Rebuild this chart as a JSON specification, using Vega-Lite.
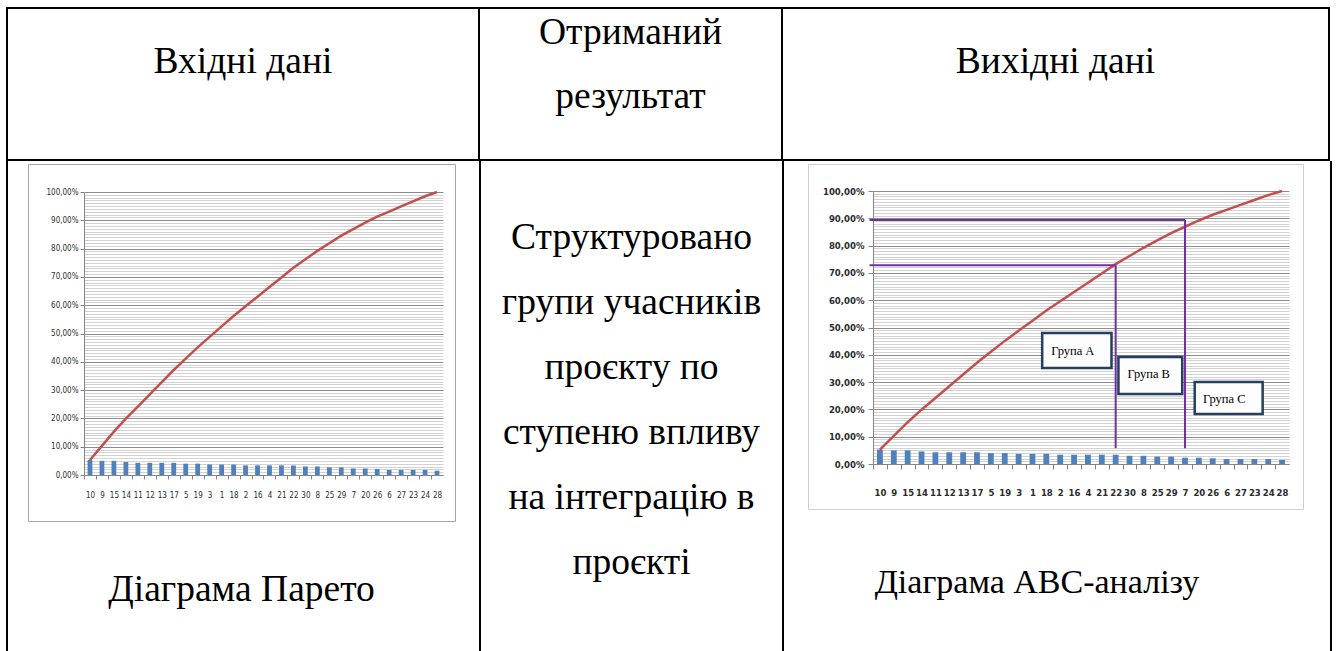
{
  "$schema": "https://vega.github.io/schema/vega-lite/v6.json",
  "background": "white",
  "padding": {"left": 6, "top": 7, "right": 0, "bottom": 0},
  "config": {
    "font": "Liberation Serif",
    "view": {"stroke": null},
    "text": {"font": "Liberation Serif", "fontSize": 37.5, "color": "black"}
  },
  "data": {"values": [{"k": 0}]},
  "datasets": {
    "empty": [],
    "pareto": [
      {"id": "10", "share": 0.053, "cum": 0.053},
      {"id": "9", "share": 0.050, "cum": 0.103},
      {"id": "15", "share": 0.050, "cum": 0.153},
      {"id": "14", "share": 0.046, "cum": 0.199},
      {"id": "11", "share": 0.043, "cum": 0.242},
      {"id": "12", "share": 0.043, "cum": 0.285},
      {"id": "13", "share": 0.043, "cum": 0.328},
      {"id": "17", "share": 0.043, "cum": 0.371},
      {"id": "5", "share": 0.040, "cum": 0.411},
      {"id": "19", "share": 0.040, "cum": 0.451},
      {"id": "3", "share": 0.037, "cum": 0.488},
      {"id": "1", "share": 0.037, "cum": 0.525},
      {"id": "18", "share": 0.037, "cum": 0.562},
      {"id": "2", "share": 0.034, "cum": 0.596},
      {"id": "16", "share": 0.034, "cum": 0.630},
      {"id": "4", "share": 0.034, "cum": 0.664},
      {"id": "21", "share": 0.034, "cum": 0.698},
      {"id": "22", "share": 0.034, "cum": 0.732},
      {"id": "30", "share": 0.030, "cum": 0.762},
      {"id": "8", "share": 0.030, "cum": 0.792},
      {"id": "25", "share": 0.027, "cum": 0.819},
      {"id": "29", "share": 0.027, "cum": 0.846},
      {"id": "7", "share": 0.023, "cum": 0.869},
      {"id": "20", "share": 0.023, "cum": 0.892},
      {"id": "26", "share": 0.021, "cum": 0.913},
      {"id": "6", "share": 0.018, "cum": 0.931},
      {"id": "27", "share": 0.018, "cum": 0.949},
      {"id": "23", "share": 0.018, "cum": 0.967},
      {"id": "24", "share": 0.018, "cum": 0.985},
      {"id": "28", "share": 0.015, "cum": 1.000}
    ],
    "abcLines": [
      {"a": -0.25, "a2": 17.5, "v": 0.728, "v2": 0.728},
      {"a": 17.5, "a2": 17.5, "v": 0.058, "v2": 0.728},
      {"a": -0.25, "a2": 22.5, "v": 0.894, "v2": 0.894},
      {"a": 22.5, "a2": 22.5, "v": 0.058, "v2": 0.894}
    ],
    "groups": [
      {"label": "Група A", "a": 12.2, "a2": 17.2, "v": 0.352, "v2": 0.48, "tx": 12.85, "ty": 0.414},
      {"label": "Група B", "a": 17.7, "a2": 22.3, "v": 0.256, "v2": 0.392, "tx": 18.35, "ty": 0.33},
      {"label": "Група C", "a": 23.2, "a2": 28.1, "v": 0.183, "v2": 0.30, "tx": 23.8, "ty": 0.238}
    ]
  },
  "spacing": 0,
  "vconcat": [
    {"width": 1324, "height": 2, "data": {"name": "empty"}, "view": {"fill": "black", "stroke": null}, "mark": {"type": "text", "text": ""}, "encoding": {}},
    {
      "spacing": 0,
      "hconcat": [
        {"width": 2, "height": 150, "data": {"name": "empty"}, "view": {"fill": "black", "stroke": null}, "mark": {"type": "text", "text": ""}, "encoding": {}},
        {"width": 470, "height": 150, "mark": {"type": "text", "text": "Вхідні дані", "font": "Liberation Serif", "fontSize": 37.5, "dy": -22}, "encoding": {}},
        {"width": 2, "height": 150, "data": {"name": "empty"}, "view": {"fill": "black", "stroke": null}, "mark": {"type": "text", "text": ""}, "encoding": {}},
        {"width": 301, "height": 150, "mark": {"type": "text", "text": ["Отриманий", "результат"], "font": "Liberation Serif", "fontSize": 37.5, "lineHeight": 64, "dy": -51}, "encoding": {}},
        {"width": 2, "height": 150, "data": {"name": "empty"}, "view": {"fill": "black", "stroke": null}, "mark": {"type": "text", "text": ""}, "encoding": {}},
        {"width": 545, "height": 150, "mark": {"type": "text", "text": "Вихідні дані", "font": "Liberation Serif", "fontSize": 37.5, "dy": -22}, "encoding": {}},
        {"width": 2, "height": 150, "data": {"name": "empty"}, "view": {"fill": "black", "stroke": null}, "mark": {"type": "text", "text": ""}, "encoding": {}}
      ]
    },
    {"width": 1324, "height": 2, "data": {"name": "empty"}, "view": {"fill": "black", "stroke": null}, "mark": {"type": "text", "text": ""}, "encoding": {}},
    {
      "spacing": 0,
      "hconcat": [
        {"width": 2, "height": 490, "data": {"name": "empty"}, "view": {"fill": "black", "stroke": null}, "mark": {"type": "text", "text": ""}, "encoding": {}},
        {
          "spacing": 0,
          "vconcat": [
            {"width": 470, "height": 2, "data": {"name": "empty"}, "mark": {"type": "text", "text": ""}, "encoding": {}},
            {
              "spacing": 0,
              "hconcat": [
                {"width": 19, "height": 358, "data": {"name": "empty"}, "mark": {"type": "text", "text": ""}, "encoding": {}},
                {
                  "width": 427,
                  "height": 357,
                  "view": {"stroke": "#a6a6a6", "strokeWidth": 1},
                  "data": {"name": "pareto"},
                  "resolve": {"axis": {"y": "independent"}},
                  "layer": [
                    {
                      "mark": {"type": "bar", "color": "#4f81bd"},
                      "encoding": {
                        "x": {
                          "field": "id", "type": "nominal", "sort": null,
                          "scale": {"type": "band", "range": [56, 415], "paddingInner": 0.6, "paddingOuter": 0.3},
                          "axis": {
                            "orient": "bottom", "offset": -46, "title": null, "labelAngle": 0,
                            "labelFont": "DejaVu Sans Condensed", "labelFontSize": 8,
                            "labelColor": "#2e2e2e", "labelPadding": 12,
                            "tickSize": 4, "tickColor": "#868686", "tickOffset": -6, "labelOffset": 6,
                            "domainColor": "#868686", "grid": false, "labelOverlap": false, "labelBound": false
                          }
                        },
                        "y": {
                          "field": "share", "type": "quantitative",
                          "scale": {"domain": [0, 1], "range": [311, 28], "nice": false},
                          "axis": {
                            "orient": "left", "offset": -56, "title": null,
                            "values": [0, 0.1, 0.2, 0.3, 0.4, 0.5, 0.6, 0.7, 0.8, 0.9, 1],
                            "labelExpr": "replace(format(datum.value, '.2%'), '.', ',')",
                            "labelFont": "DejaVu Sans Condensed", "labelFontSize": 8,
                            "labelColor": "#2e2e2e", "labelPadding": 2,
                            "tickSize": 4, "tickColor": "#868686", "domainColor": "#868686",
                            "grid": true, "gridColor": "#8c8c8c", "labelOverlap": false, "labelFlush": false
                          }
                        }
                      }
                    },
                    {
                      "mark": {"type": "line", "color": "#c0504d", "strokeWidth": 2.5},
                      "encoding": {
                        "x": {
                          "field": "id", "type": "nominal", "sort": null,
                          "scale": {"type": "band", "range": [56, 415], "paddingInner": 0.6, "paddingOuter": 0.3}
                        },
                        "y": {
                          "field": "cum", "type": "quantitative",
                          "scale": {"domain": [0, 1], "range": [311, 28], "nice": false},
                          "axis": {
                            "orient": "left", "offset": -56, "title": null,
                            "values": [0.01, 0.02, 0.03, 0.04, 0.05, 0.06, 0.07, 0.08, 0.09, 0.11, 0.12, 0.13, 0.14, 0.15, 0.16, 0.17, 0.18, 0.19, 0.21, 0.22, 0.23, 0.24, 0.25, 0.26, 0.27, 0.28, 0.29, 0.31, 0.32, 0.33, 0.34, 0.35, 0.36, 0.37, 0.38, 0.39, 0.41, 0.42, 0.43, 0.44, 0.45, 0.46, 0.47, 0.48, 0.49, 0.51, 0.52, 0.53, 0.54, 0.55, 0.56, 0.57, 0.58, 0.59, 0.61, 0.62, 0.63, 0.64, 0.65, 0.66, 0.67, 0.68, 0.69, 0.71, 0.72, 0.73, 0.74, 0.75, 0.76, 0.77, 0.78, 0.79, 0.81, 0.82, 0.83, 0.84, 0.85, 0.86, 0.87, 0.88, 0.89, 0.91, 0.92, 0.93, 0.94, 0.95, 0.96, 0.97, 0.98, 0.99],
                            "labels": false, "ticks": false, "domain": false,
                            "grid": true, "gridColor": "#d2d2d2"
                          }
                        }
                      }
                    }
                  ]
                },
                {"width": 23, "height": 358, "data": {"name": "empty"}, "mark": {"type": "text", "text": ""}, "encoding": {}}
              ]
            },
            {"width": 470, "height": 130, "mark": {"type": "text", "text": "Діаграма Парето", "font": "Liberation Serif", "fontSize": 37.5, "dy": 3, "dx": -1.5}, "encoding": {}}
          ]
        },
        {"width": 2, "height": 490, "data": {"name": "empty"}, "view": {"fill": "black", "stroke": null}, "mark": {"type": "text", "text": ""}, "encoding": {}},
        {
          "width": 301, "height": 490,
          "mark": {
            "type": "text",
            "text": ["Структуровано", "групи учасників", "проєкту по", "ступеню впливу", "на інтеграцію в", "проєкті"],
            "font": "Liberation Serif", "fontSize": 37.5,
            "lineHeight": 65, "dy": -168
          },
          "encoding": {}
        },
        {"width": 2, "height": 490, "data": {"name": "empty"}, "view": {"fill": "black", "stroke": null}, "mark": {"type": "text", "text": ""}, "encoding": {}},
        {
          "spacing": 0,
          "vconcat": [
            {"width": 545, "height": 2, "data": {"name": "empty"}, "mark": {"type": "text", "text": ""}, "encoding": {}},
            {
              "spacing": 0,
              "hconcat": [
                {"width": 23, "height": 346, "data": {"name": "empty"}, "mark": {"type": "text", "text": ""}, "encoding": {}},
                {
                  "width": 495,
                  "height": 345,
                  "view": {"stroke": "#cfcfcf", "strokeWidth": 1},
                  "data": {"name": "pareto"},
                  "resolve": {"scale": {"x": "independent"}, "axis": {"y": "independent"}},
                  "layer": [
                    {
                      "mark": {"type": "bar", "color": "#4f81bd"},
                      "encoding": {
                        "x": {
                          "field": "id", "type": "nominal", "sort": null,
                          "scale": {"type": "band", "range": [65, 481], "paddingInner": 0.58, "paddingOuter": 0.29},
                          "axis": {
                            "orient": "bottom", "offset": -45, "title": null, "labelAngle": 0,
                            "labelFont": "DejaVu Sans Condensed", "labelFontSize": 9.5, "labelFontWeight": "bold",
                            "labelColor": "#2b2b2b", "labelPadding": 18,
                            "tickSize": 5, "tickColor": "#868686", "tickOffset": -6.93, "labelOffset": 6.93,
                            "domainColor": "#868686", "grid": false, "labelOverlap": false, "labelBound": false
                          }
                        },
                        "y": {
                          "field": "share", "type": "quantitative",
                          "scale": {"domain": [0, 1], "range": [300, 27], "nice": false},
                          "axis": {
                            "orient": "left", "offset": -65, "title": null,
                            "values": [0, 0.1, 0.2, 0.3, 0.4, 0.5, 0.6, 0.7, 0.8, 0.9, 1],
                            "labelExpr": "replace(format(datum.value, '.2%'), '.', ',')",
                            "labelFont": "DejaVu Sans Condensed", "labelFontSize": 9.5, "labelFontWeight": "bold",
                            "labelColor": "#2b2b2b", "labelPadding": 4,
                            "tickSize": 5, "tickColor": "#868686", "domainColor": "#868686",
                            "grid": true, "gridColor": "#8c8c8c", "labelOverlap": false, "labelFlush": false
                          }
                        }
                      }
                    },
                    {
                      "mark": {"type": "line", "color": "#c0504d", "strokeWidth": 2.5},
                      "encoding": {
                        "x": {
                          "field": "id", "type": "nominal", "sort": null,
                          "scale": {"type": "band", "range": [65, 481], "paddingInner": 0.58, "paddingOuter": 0.29},
                          "axis": null
                        },
                        "y": {
                          "field": "cum", "type": "quantitative",
                          "scale": {"domain": [0, 1], "range": [300, 27], "nice": false},
                          "axis": {
                            "orient": "left", "offset": -65, "title": null,
                            "values": [0.01, 0.02, 0.03, 0.04, 0.05, 0.06, 0.07, 0.08, 0.09, 0.11, 0.12, 0.13, 0.14, 0.15, 0.16, 0.17, 0.18, 0.19, 0.21, 0.22, 0.23, 0.24, 0.25, 0.26, 0.27, 0.28, 0.29, 0.31, 0.32, 0.33, 0.34, 0.35, 0.36, 0.37, 0.38, 0.39, 0.41, 0.42, 0.43, 0.44, 0.45, 0.46, 0.47, 0.48, 0.49, 0.51, 0.52, 0.53, 0.54, 0.55, 0.56, 0.57, 0.58, 0.59, 0.61, 0.62, 0.63, 0.64, 0.65, 0.66, 0.67, 0.68, 0.69, 0.71, 0.72, 0.73, 0.74, 0.75, 0.76, 0.77, 0.78, 0.79, 0.81, 0.82, 0.83, 0.84, 0.85, 0.86, 0.87, 0.88, 0.89, 0.91, 0.92, 0.93, 0.94, 0.95, 0.96, 0.97, 0.98, 0.99],
                            "labels": false, "ticks": false, "domain": false,
                            "grid": true, "gridColor": "#d2d2d2"
                          }
                        }
                      }
                    },
                    {
                      "data": {"name": "abcLines"},
                      "mark": {"type": "rule", "color": "#7030a0", "strokeWidth": 2},
                      "encoding": {
                        "x": {"field": "a", "type": "quantitative", "scale": {"domain": [0, 30], "range": [65, 481], "nice": false, "zero": false}, "axis": null},
                        "x2": {"field": "a2"},
                        "y": {"field": "v", "type": "quantitative", "scale": {"domain": [0, 1], "range": [300, 27], "nice": false}, "axis": null},
                        "y2": {"field": "v2"}
                      }
                    },
                    {
                      "data": {"name": "groups"},
                      "mark": {"type": "rect", "fill": "#fdfdfd", "stroke": "#243f60", "strokeWidth": 2.5},
                      "encoding": {
                        "x": {"field": "a", "type": "quantitative", "scale": {"domain": [0, 30], "range": [65, 481], "nice": false, "zero": false}, "axis": null},
                        "x2": {"field": "a2"},
                        "y": {"field": "v", "type": "quantitative", "scale": {"domain": [0, 1], "range": [300, 27], "nice": false}, "axis": null},
                        "y2": {"field": "v2"}
                      }
                    },
                    {
                      "data": {"name": "groups"},
                      "mark": {"type": "text", "font": "Liberation Serif", "fontSize": 12.5, "align": "left", "baseline": "middle", "color": "black"},
                      "encoding": {
                        "x": {"field": "tx", "type": "quantitative", "scale": {"domain": [0, 30], "range": [65, 481], "nice": false, "zero": false}, "axis": null},
                        "y": {"field": "ty", "type": "quantitative", "scale": {"domain": [0, 1], "range": [300, 27], "nice": false}, "axis": null},
                        "text": {"field": "label"}
                      }
                    }
                  ]
                },
                {"width": 26, "height": 346, "data": {"name": "empty"}, "mark": {"type": "text", "text": ""}, "encoding": {}}
              ]
            },
            {"width": 545, "height": 142, "mark": {"type": "text", "text": "Діаграма ABC-аналізу", "font": "Liberation Serif", "fontSize": 34, "dy": 2, "dx": -19.5}, "encoding": {}}
          ]
        },
        {"width": 2, "height": 490, "data": {"name": "empty"}, "view": {"fill": "black", "stroke": null}, "mark": {"type": "text", "text": ""}, "encoding": {}}
      ]
    }
  ]
}
